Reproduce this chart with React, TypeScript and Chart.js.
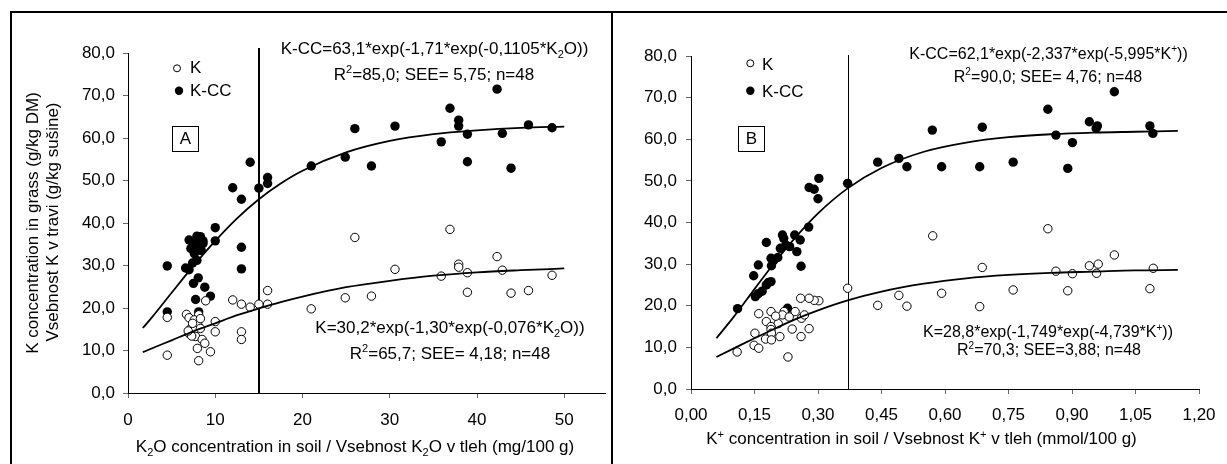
import React, { useEffect, useRef } from 'react';
import { Chart, registerables } from 'chart.js';
Chart.register(...registerables);

const FONT = '"Liberation Sans", Arial, Helvetica, sans-serif';

// ---------- Panel A data (K2O, mg/100 g) ----------
const aKx = [26.0, 36.9, 42.3, 37.9, 37.9, 30.6, 42.9, 38.9, 35.9, 48.6, 24.9, 27.9, 38.9, 43.9, 45.9, 21.0,
  16.0, 12.0, 13.0, 14.0, 15.0, 16.0, 8.9, 4.5, 10.0, 10.0, 13.0, 13.0, 4.5, 9.45, 8.1,
  6.7, 8.1, 7.0, 7.6, 8.0, 7.2, 7.6, 7.0, 7.75, 8.5, 8.8, 7.95, 7.4, 8.3, 7.3, 8.3, 6.9];
const aKy = [36.6, 38.5, 32.1, 30.3, 29.6, 29.1, 28.9, 28.3, 27.5, 27.7, 22.4, 22.8, 23.7, 23.5, 24.1, 19.8,
  24.1, 21.9, 20.9, 20.2, 20.9, 20.9, 21.7, 17.8, 16.8, 14.4, 14.4, 12.6, 8.9, 9.7, 7.6,
  18.5, 18.4, 17.7, 17.2, 16.0, 15.2, 14.8, 14.0, 13.3, 12.6, 11.7, 10.5, 16.4, 15.2, 13.4, 17.5, 14.6];
const aCCx = [42.3, 36.9, 37.9, 37.9, 26.0, 30.6, 38.9, 42.9, 45.9, 48.6, 35.9, 21.0, 24.9, 27.9, 38.9, 43.9,
  14.0, 12.0, 13.0, 15.0, 16.0, 16.0, 10.0,
  4.5, 4.5, 8.1, 13.0, 13.0, 10.0, 7.75, 9.45, 8.8, 7.5, 8.05,
  7.0, 7.9, 8.3, 8.6, 7.2, 8.1, 8.4, 7.6, 7.9, 7.4, 6.6, 7.0, 8.6, 7.7];
const aCCy = [71.5, 67.0, 64.2, 62.8, 62.2, 62.8, 60.9, 61.1, 63.1, 62.4, 59.1, 53.4, 55.5, 53.4, 54.4, 52.9,
  54.3, 48.3, 45.6, 48.2, 50.7, 49.3, 38.9,
  29.9, 19.1, 19.1, 34.3, 29.2, 35.8, 22.0, 22.8, 24.9, 25.8, 27.1,
  36.0, 36.9, 36.8, 35.8, 34.0, 34.5, 33.5, 32.8, 31.2, 30.6, 29.4, 29.0, 35.2, 35.5];
const aCurveX = [1.7, 2.5, 5, 7.5, 10, 12.5, 15, 17.5, 20, 25, 30, 35, 40, 45, 50];
const aKCurveY = [9.6, 10.3, 12.4, 14.5, 16.4, 18.3, 19.9, 21.4, 22.7, 24.9, 26.4, 27.6, 28.4, 28.9, 29.3];
const aCCCurveY = [15.3, 17.2, 23.6, 29.9, 35.8, 41.1, 45.6, 49.3, 52.3, 56.6, 59.3, 60.9, 61.8, 62.4, 62.7];
const aXTicks = [0, 10, 20, 30, 40, 50];
const aXTickLabels = ['0', '10', '20', '30', '40', '50'];

// ---------- Panel B data (K+, mmol/100 g) ----------
const bKx = [0.571, 0.843, 1.0, 0.941, 0.962, 0.958, 0.688, 0.862, 0.901, 1.092, 0.592, 0.761, 0.89, 1.084, 0.682,
  0.37, 0.441, 0.491, 0.51, 0.302, 0.291, 0.279, 0.259,
  0.246, 0.22, 0.216, 0.232, 0.261, 0.16, 0.189, 0.178, 0.206, 0.189, 0.189, 0.151, 0.19, 0.239, 0.279,
  0.21, 0.26, 0.176, 0.19, 0.149, 0.16, 0.109, 0.229, 0.2, 0.268];
const bKy = [36.8, 38.5, 32.2, 29.6, 30.0, 27.8, 29.2, 28.3, 27.7, 29.0, 23.0, 23.8, 23.6, 24.1, 19.8,
  24.2, 20.1, 22.5, 19.9, 21.2, 21.3, 21.8, 21.8,
  18.6, 18.6, 17.8, 17.3, 17.0, 18.1, 18.6, 16.2, 15.7, 15.0, 14.3, 13.4, 13.4, 14.4, 14.5,
  12.6, 12.6, 12.0, 11.8, 10.5, 9.8, 8.9, 7.7, 17.5, 17.8];
const bCCx = [1.0, 0.843, 0.941, 0.96, 0.957, 1.084, 1.091, 0.57, 0.688, 0.862, 0.901, 0.592, 0.682, 0.761, 0.89,
  0.302, 0.279, 0.291, 0.3, 0.37, 0.441, 0.491, 0.51,
  0.278, 0.216, 0.245, 0.219, 0.258, 0.178, 0.211, 0.233, 0.25, 0.189, 0.205, 0.19, 0.159, 0.26, 0.148,
  0.189, 0.178, 0.159, 0.152, 0.11, 0.228, 0.195, 0.183, 0.168, 0.224];
const bCCy = [71.4, 67.2, 64.2, 63.2, 62.6, 63.2, 61.4, 62.2, 62.9, 61.0, 59.2, 53.4, 53.4, 54.5, 53.0,
  50.6, 48.4, 48.0, 45.7, 49.4, 54.5, 55.4, 53.4,
  38.9, 37.0, 37.0, 36.2, 35.8, 35.2, 33.8, 34.2, 33.0, 31.4, 31.6, 29.6, 29.8, 29.5, 27.2,
  25.8, 25.0, 22.9, 22.2, 19.3, 19.4, 30.8, 25.6, 23.5, 34.6];
const bCurveX = [0.06, 0.1, 0.15, 0.2, 0.25, 0.3, 0.37, 0.45, 0.55, 0.65, 0.75, 0.85, 0.95, 1.05, 1.15];
const bKCurveY = [7.7, 9.7, 12.2, 14.6, 16.9, 18.9, 21.3, 23.4, 25.3, 26.6, 27.4, 27.9, 28.2, 28.5, 28.6];
const bCCCurveY = [12.2, 17.2, 24.0, 30.7, 36.8, 42.2, 48.2, 53.1, 57.0, 59.2, 60.5, 61.2, 61.6, 61.8, 62.0];
const bXTicks = [0, 0.15, 0.3, 0.45, 0.6, 0.75, 0.9, 1.05, 1.2];
const bXTickLabels = ['0,00', '0,15', '0,30', '0,45', '0,60', '0,75', '0,90', '1,05', '1,20'];

const yTicks = [0, 10, 20, 30, 40, 50, 60, 70, 80];
const yTickLabels = ['0,0', '10,0', '20,0', '30,0', '40,0', '50,0', '60,0', '70,0', '80,0'];

type Seg = [string, ('sub' | 'sup')?];

function drawRich(ctx: CanvasRenderingContext2D, segs: Seg[], cx: number, cy: number, size: number) {
  const small = Math.round(size * 0.62);
  let w = 0;
  for (const [t, m] of segs) {
    ctx.font = `${m ? small : size}px ${FONT}`;
    w += ctx.measureText(t).width;
  }
  let x = cx - w / 2;
  const base = cy + size * 0.36;
  ctx.textAlign = 'left';
  ctx.textBaseline = 'alphabetic';
  ctx.fillStyle = '#000';
  for (const [t, m] of segs) {
    ctx.font = `${m ? small : size}px ${FONT}`;
    const dy = m === 'sub' ? size * 0.22 : m === 'sup' ? -size * 0.4 : 0;
    ctx.fillText(t, x, base + dy);
    x += ctx.measureText(t).width;
  }
}

function drawLegend(ctx: CanvasRenderingContext2D, ox: number, oy: number, fx: number, fy: number, tx: number, ty1: number, ty2: number) {
  ctx.save();
  ctx.lineWidth = 1;
  ctx.strokeStyle = '#000';
  ctx.fillStyle = '#fff';
  ctx.beginPath(); ctx.arc(ox, oy, 3.5, 0, Math.PI * 2); ctx.fill(); ctx.stroke();
  ctx.fillStyle = '#000';
  ctx.beginPath(); ctx.arc(fx, fy, 4.2, 0, Math.PI * 2); ctx.fill();
  ctx.font = `17px ${FONT}`;
  ctx.textAlign = 'left';
  ctx.textBaseline = 'middle';
  ctx.fillText('K', tx, ty1);
  ctx.fillText('K-CC', tx, ty2);
  ctx.restore();
}

function drawBox(ctx: CanvasRenderingContext2D, x: number, y: number, w: number, h: number, label: string) {
  ctx.save();
  ctx.lineWidth = 1;
  ctx.strokeStyle = '#000';
  ctx.strokeRect(x + 0.5, y + 0.5, w, h);
  ctx.fillStyle = '#000';
  ctx.font = `17px ${FONT}`;
  ctx.textAlign = 'center';
  ctx.textBaseline = 'middle';
  ctx.fillText(label, x + w / 2 + 0.5, y + h / 2 + 1);
  ctx.restore();
}

function zip(xs: number[], ys: number[]) {
  return xs.map((x, i) => ({ x, y: ys[i] }));
}

interface PanelDef {
  width: number;
  left: number;
  xMax: number;
  xTicks: number[];
  xTickLabels: string[];
  yAxisWidth: number;
  xAxisHeight: number;
  padTop: number;
  padRight: number;
  xTickPad: number;
  yTickPad: number;
  kx: number[]; ky: number[]; ccx: number[]; ccy: number[];
  curveX: number[]; kCurveY: number[]; ccCurveY: number[];
  vlineX: number; vlineTop: number; vlineWidth: number;
  annotate: (ctx: CanvasRenderingContext2D) => void;
}

const panelA: PanelDef = {
  width: 611, left: 0, xMax: 54.76, xTicks: aXTicks, xTickLabels: aXTickLabels,
  yAxisWidth: 128, xAxisHeight: 71, padTop: 53, padRight: 0, xTickPad: 12, yTickPad: 8,
  kx: aKx, ky: aKy, ccx: aCCx, ccy: aCCy, curveX: aCurveX, kCurveY: aKCurveY, ccCurveY: aCCCurveY,
  vlineX: 15, vlineTop: 48, vlineWidth: 2,
  annotate: (ctx) => {
    drawLegend(ctx, 177, 68.3, 179, 90.7, 190, 68.5, 91);
    drawBox(ctx, 172, 126, 26, 25, 'A');
    drawRich(ctx, [['K-CC=63,1*exp(-1,71*exp(-0,1105*K'], ['2', 'sub'], ['O))']], 434.5, 48, 17);
    drawRich(ctx, [['R'], ['2', 'sup'], ['=85,0; SEE= 5,75; n=48']], 434, 74, 17);
    drawRich(ctx, [['K=30,2*exp(-1,30*exp(-0,076*K'], ['2', 'sub'], ['O))']], 450, 326.7, 17);
    drawRich(ctx, [['R'], ['2', 'sup'], ['=65,7; SEE= 4,18; n=48']], 450, 352.7, 17);
    // y axis title
    ctx.save();
    ctx.fillStyle = '#000';
    ctx.font = `17px ${FONT}`;
    ctx.textAlign = 'center';
    ctx.textBaseline = 'middle';
    ctx.translate(33, 223); ctx.rotate(-Math.PI / 2);
    ctx.fillText('K concentration in grass (g/kg DM)', 0, 0);
    ctx.restore();
    ctx.save();
    ctx.fillStyle = '#000';
    ctx.font = `17px ${FONT}`;
    ctx.textAlign = 'center';
    ctx.textBaseline = 'middle';
    ctx.translate(53, 222); ctx.rotate(-Math.PI / 2);
    ctx.fillText('Vsebnost K v travi (g/kg sušine)', 0, 0);
    ctx.restore();
    drawRich(ctx, [['K'], ['2', 'sub'], ['O concentration in soil / Vsebnost K'], ['2', 'sub'], ['O v tleh (mg/100 g)']], 355, 446, 17);
  },
};

const panelB: PanelDef = {
  width: 615, left: 612, xMax: 1.2, xTicks: bXTicks, xTickLabels: bXTickLabels,
  yAxisWidth: 79, xAxisHeight: 75, padTop: 56, padRight: 28, xTickPad: 11, yTickPad: 9,
  kx: bKx, ky: bKy, ccx: bCCx, ccy: bCCy, curveX: bCurveX, kCurveY: bKCurveY, ccCurveY: bCCCurveY,
  vlineX: 0.37, vlineTop: 55, vlineWidth: 1,
  annotate: (ctx) => {
    drawLegend(ctx, 138.3, 63.3, 138.3, 90.7, 150, 65, 92);
    drawBox(ctx, 126, 126, 26, 25, 'B');
    drawRich(ctx, [['K-CC=62,1*exp(-2,337*exp(-5,995*K'], ['+', 'sup'], ['))']], 436.5, 53, 16);
    drawRich(ctx, [['R'], ['2', 'sup'], ['=90,0; SEE= 4,76; n=48']], 436, 76, 16);
    drawRich(ctx, [['K=28,8*exp(-1,749*exp(-4,739*K'], ['+', 'sup'], ['))']], 436, 331.7, 16);
    drawRich(ctx, [['R'], ['2', 'sup'], ['=70,3; SEE=3,88; n=48']], 437, 349.3, 16);
    drawRich(ctx, [['K'], ['+', 'sup'], [' concentration in soil / Vsebnost K'], ['+', 'sup'], [' v tleh (mmol/100 g)']], 309.5, 438.3, 17);
  },
};

function buildChart(canvas: HTMLCanvasElement, p: PanelDef) {
  const annot = {
    id: 'annot',
    beforeDatasetsDraw(chart: any) {
      const ctx: CanvasRenderingContext2D = chart.ctx;
      const xs = chart.scales.x;
      const px = Math.round(xs.getPixelForValue(p.vlineX)) + (p.vlineWidth % 2 ? 0.5 : 0);
      ctx.save();
      ctx.strokeStyle = '#000';
      ctx.lineWidth = p.vlineWidth;
      ctx.beginPath();
      ctx.moveTo(px, p.vlineTop);
      ctx.lineTo(px, chart.chartArea.bottom);
      ctx.stroke();
      ctx.restore();
    },
    afterDraw(chart: any) {
      p.annotate(chart.ctx);
    },
  };
  const tickFont = { family: FONT, size: 17 };
  return new Chart(canvas, {
    type: 'scatter',
    data: {
      datasets: [
        { label: 'K fit', data: zip(p.curveX, p.kCurveY), showLine: true, borderColor: '#000', borderWidth: 1.8, pointRadius: 0, cubicInterpolationMode: 'monotone', fill: false } as any,
        { label: 'K-CC fit', data: zip(p.curveX, p.ccCurveY), showLine: true, borderColor: '#000', borderWidth: 1.8, pointRadius: 0, cubicInterpolationMode: 'monotone', fill: false } as any,
        { label: 'K', data: zip(p.kx, p.ky), pointRadius: 4.2, pointBackgroundColor: '#fff', pointBorderColor: '#000', pointBorderWidth: 1, showLine: false },
        { label: 'K-CC', data: zip(p.ccx, p.ccy), pointRadius: 4.7, pointBackgroundColor: '#000', pointBorderColor: '#000', pointBorderWidth: 0, showLine: false },
      ],
    },
    options: {
      responsive: false,
      animation: false,
      devicePixelRatio: 1,
      layout: { padding: { top: p.padTop, right: p.padRight, left: 0, bottom: 0 } },
      plugins: { legend: { display: false }, tooltip: { enabled: false }, title: { display: false } },
      scales: {
        x: {
          type: 'linear', min: 0, max: p.xMax,
          afterBuildTicks: (s: any) => { s.ticks = p.xTicks.map((v) => ({ value: v })); },
          afterFit: (s: any) => { s.height = p.xAxisHeight; },
          ticks: { callback: (_v: any, i: number) => p.xTickLabels[i], font: tickFont, color: '#000', padding: p.xTickPad, maxRotation: 0, autoSkip: false },
          grid: { display: true, drawOnChartArea: false, drawTicks: true, tickLength: 5, color: '#666', lineWidth: 1 },
          border: { display: true, color: '#000', width: 1 },
        },
        y: {
          type: 'linear', min: 0, max: 80,
          afterBuildTicks: (s: any) => { s.ticks = yTicks.map((v) => ({ value: v })); },
          afterFit: (s: any) => { s.width = p.yAxisWidth; },
          ticks: { callback: (_v: any, i: number) => yTickLabels[i], font: tickFont, color: '#000', padding: p.yTickPad, autoSkip: false },
          grid: { display: true, drawOnChartArea: false, drawTicks: true, tickLength: 5, color: '#666', lineWidth: 1 },
          border: { display: true, color: '#000', width: 1 },
        },
      },
    } as any,
    plugins: [annot],
  });
}

function Panel({ def }: { def: PanelDef }) {
  const ref = useRef<HTMLCanvasElement | null>(null);
  useEffect(() => {
    if (!ref.current) return;
    const c = buildChart(ref.current, def);
    return () => c.destroy();
  }, [def]);
  return (
    <canvas
      ref={ref}
      width={def.width}
      height={464}
      style={{ position: 'absolute', left: def.left, top: 0, width: def.width, height: 464 }}
    />
  );
}

export default function App() {
  return (
    <div style={{ position: 'absolute', left: 0, top: 0, width: 1227, height: 464, overflow: 'hidden', background: '#fff' }}>
      <Panel def={panelA} />
      <Panel def={panelB} />
      <div style={{ position: 'absolute', left: 10, top: 11, width: 603, height: 520, boxSizing: 'border-box', border: '2px solid #000', pointerEvents: 'none' }} />
      <div style={{ position: 'absolute', left: 611, top: 11, width: 700, height: 520, boxSizing: 'border-box', border: '2px solid #000', pointerEvents: 'none' }} />
    </div>
  );
}
